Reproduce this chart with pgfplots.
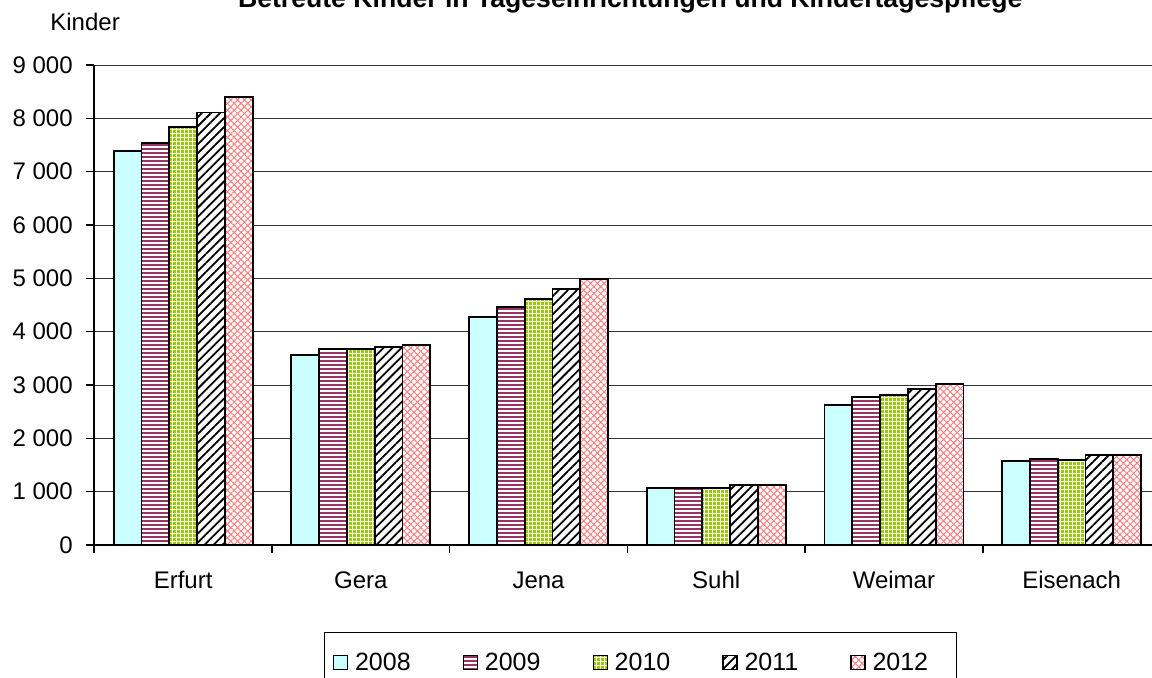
\documentclass[border=0pt]{standalone}
\usepackage{fontspec}
\setmainfont{Liberation Sans}
\usepackage{pgfplots}
\pgfplotsset{compat=1.18}
\usetikzlibrary{patterns.meta}
\definecolor{c08}{HTML}{CCFFFF}
\definecolor{c09}{HTML}{993366}
\definecolor{c10}{HTML}{99CC00}
\definecolor{c12}{HTML}{FF8080}
\begin{document}
\begin{tikzpicture}
\useasboundingbox (-47.15pt,-66pt) rectangle (528.85pt,272.5pt);
\clip (-47.15pt,-66pt) rectangle (528.85pt,272.5pt);
\begin{axis}[
  at={(0pt,0pt)}, anchor=south west,
  scale only axis, width=533.1pt, height=240pt,
  xmin=-0.5, xmax=5.5, ymin=0, ymax=9000,
  axis x line*=bottom, axis y line*=left,
  axis line style={black, line width=0.8pt},
  ybar=0pt, bar width=13.9pt,
  xtick={0,...,5},
  xticklabels={Erfurt,Gera,Jena,Suhl,Weimar,Eisenach},
  minor xtick={-0.5,0.5,1.5,2.5,3.5,4.5,5.5},
  ytick={0,1000,...,9000},
  ymajorgrids,
  grid style={black!80, line width=0.5pt},
  tick align=outside,
  major tick length=4.3pt, minor tick length=4pt,
  major x tick style={draw=none},
  minor x tick style={black, line width=0.8pt},
  major y tick style={black, line width=0.6pt},
  tick label style={font=\fontsize{12}{14}\selectfont},
  xticklabel style={anchor=base, yshift=-17.5pt},
  yticklabel style={xshift=-3pt},
  /pgf/number format/1000 sep={\ },
  /pgf/number format/assume math mode=true,
  every axis plot post/.append style={
    legend image code/.code={\draw[#1, line width=0.6pt] (0pt,-3.5pt) rectangle (7pt,3.5pt);}},
  legend style={at={(0.5123,-0.18125)}, anchor=north, legend columns=5,
    draw=black, line width=0.6pt, inner xsep=4pt, inner ysep=8pt,
    font=\fontsize{12.5}{14}\selectfont,
    /tikz/every odd column/.append style={column sep=1.5pt},
    /tikz/every even column/.append style={column sep=24pt}},
]
\addplot[draw=black, line width=0.9pt, fill=c08]
  coordinates {(0,7390) (1,3560) (2,4275) (3,1070) (4,2625) (5,1570)};
\addplot[draw=black, line width=0.9pt, fill=white,
  postaction={pattern={Lines[angle=0,distance=2pt,line width=1pt]}, pattern color=c09}]
  coordinates {(0,7540) (1,3675) (2,4457) (3,1067) (4,2769) (5,1607)};
\addplot[draw=black, line width=0.9pt, fill=c10,
  postaction={pattern={Hatch[angle=0,distance=2pt,line width=0.5pt]}, pattern color=white}]
  coordinates {(0,7840) (1,3670) (2,4612) (3,1063) (4,2807) (5,1600)};
\addplot[draw=black, line width=0.9pt, fill=white,
  postaction={pattern={Lines[angle=45,distance=3.2pt,line width=0.9pt]}, pattern color=black}]
  coordinates {(0,8110) (1,3713) (2,4794) (3,1122) (4,2919) (5,1688)};
\addplot[draw=black, line width=0.9pt, fill=white,
  postaction={pattern={Hatch[angle=45,distance=2.4pt,line width=0.5pt]}, pattern color=c12}]
  coordinates {(0,8405) (1,3745) (2,4982) (3,1120) (4,3025) (5,1682)};
\legend{2008,2009,2010,2011,2012\hspace*{8pt}}
\end{axis}
\node[anchor=base, font=\fontsize{12}{14}\selectfont] at (-4.6pt,257.2pt) {Kinder};
\node[anchor=base, font=\bfseries\fontsize{13.3}{15}\selectfont] at (268pt,269pt)
  {Betreute Kinder in Tageseinrichtungen und Kindertagespflege};
\end{tikzpicture}
\end{document}
